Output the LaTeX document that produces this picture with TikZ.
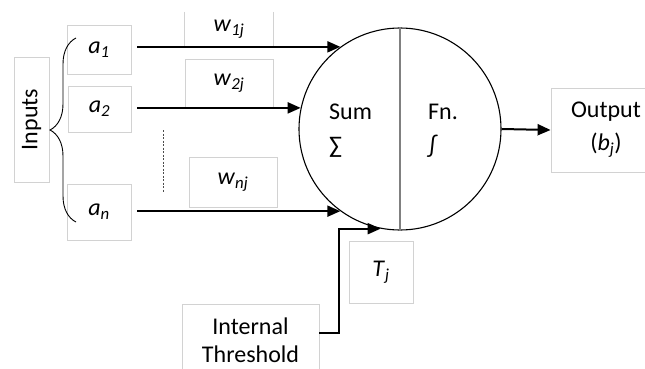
\documentclass[tikz,border=0pt]{standalone}
\usepackage{fontspec}
\setmainfont{Carlito}
\usetikzlibrary{arrows.meta,decorations.pathreplacing}
\definecolor{boxgray}{HTML}{D2D2D2}
\definecolor{divgray}{HTML}{808080}
\begin{document}
\begin{tikzpicture}[x=1pt,y=-1pt,
  box/.style={draw=boxgray,line width=0.8pt,inner sep=0pt,font=\fontsize{24}{28}\selectfont},
  txt/.style={inner sep=0pt,font=\fontsize{24}{28}\selectfont},
  arr/.style={line width=2pt,-{Triangle[length=13pt,width=11pt]}},
  side/.style={draw=boxgray,line width=0.8pt}]
\useasboundingbox (0,0) rectangle (645,369);
% boxes
\node[box,rotate=90,minimum width=125pt,minimum height=35pt] (inputs) at (31.5,119.5) {Inputs};
\node[box,minimum width=64pt,minimum height=49pt] (a1) at (99,50) {\textit{a}\textsubscript{\textit{1}}};
\node[box,minimum width=63pt,minimum height=46pt] (a2) at (99.5,109) {\textit{a}\textsubscript{\textit{2}}};
\node[box,minimum width=64pt,minimum height=56pt] (an) at (99,212) {\textit{a}\textsubscript{\textit{n}}};
\node[txt,minimum width=88pt,minimum height=34pt] (w1) at (229,29) {\textit{w}\textsubscript{\textit{1j}}};
\draw[side] (w1.north west) -- (w1.south west);
\draw[side] (w1.north east) -- (w1.south east);
\node[box,minimum width=88pt,minimum height=49pt] (w2) at (229,83.5) {\textit{w}\textsubscript{\textit{2j}}};
\node[box,minimum width=88pt,minimum height=50pt] (wn) at (233,182) {\textit{w}\textsubscript{\textit{nj}}};
\node[box,minimum width=64pt,minimum height=62pt] (tj) at (381,272) {\textit{T}\textsubscript{\textit{j}}};
\node[box,minimum width=137pt,minimum height=72pt,align=center] (it) at (250.5,340) {Internal\\Threshold};
\node[box,minimum width=110pt,minimum height=84pt,align=center,font=\fontsize{24}{33}\selectfont] (out) at (606,130) {Output\\(\textit{b}\textsubscript{\textit{j}})};
% neuron
\node[draw,circle,line width=1.1pt,minimum size=202pt,inner sep=0pt] (neuron) at (400,129) {};
\draw[divgray,line width=1.5pt] (neuron.north) -- (neuron.south);
\node[txt,anchor=west,align=left,font=\fontsize{24}{34}\selectfont] (sumtxt) at (329,131) {Sum\\∑};
\node[txt,anchor=west,align=left,font=\fontsize{24}{34}\selectfont] (fntxt) at (428,131) {Fn.\\∫};
% brace
\draw[line width=0.9pt,decorate,decoration={brace,amplitude=26pt}] (76,222) -- (76,38);
% dotted
\draw[black!70,line width=1pt,dash pattern=on 2pt off 1.5pt] (163,130) -- (163,192);
% connectors
\draw[arr,shorten <=6pt] (a1.east |- neuron.126.7) -- (neuron.126.7);
\draw[arr,shorten <=6pt] (a2.east |- neuron.168) -- (neuron.168);
\draw[arr,shorten <=6pt] (an.east |- neuron.234.2) -- (neuron.234.2);
\draw[arr] ([yshift=7pt]it.east) -- ++(20,0) |- (neuron.259);
\draw[arr] (neuron.east) -- (out.west);
\end{tikzpicture}
\end{document}
